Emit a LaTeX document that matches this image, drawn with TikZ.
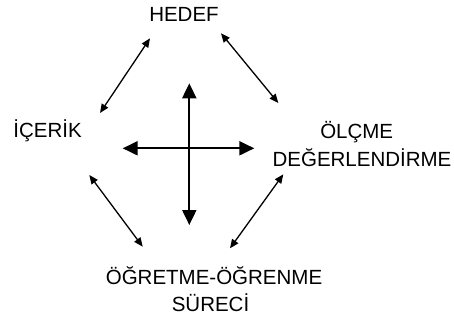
\documentclass[tikz,border=0pt]{standalone}
\usepackage{fontspec}
\setmainfont{Liberation Sans}
\usetikzlibrary{arrows.meta}
\tikzset{
  lbl/.style={anchor=base, inner sep=0pt, font=\fontsize{20.5}{28}\selectfont},
  thinarrow/.style={line width=1.3pt, {Triangle[length=9pt,width=7.5pt]}-{Triangle[length=9pt,width=7.5pt]}},
  bigarrow/.style={line width=2pt, {Triangle[length=15pt,width=14pt]}-{Triangle[length=15pt,width=14pt]}}
}
\begin{document}
\begin{tikzpicture}[x=1pt,y=-1pt]
\useasboundingbox (0,0) rectangle (454,322);
% labels
\node[lbl] (hedef) at (184,21.5) {HEDEF};
\node[lbl] (icerik) at (47.5,137) {İÇERİK};
\node[lbl] (olcme) at (356.7,138) {ÖLÇME};
\node[lbl] (degerl) at (362,166) {DEĞERLENDİRME};
\node[lbl] (ogretme) at (214,284) {ÖĞRETME-ÖĞRENME};
\node[lbl] (sureci) at (210.5,311) {SÜRECİ};
% connector end points
\coordinate (a1s) at (150,38.3);
\coordinate (a1e) at (100,113);
\coordinate (a2s) at (221,33.3);
\coordinate (a2e) at (278.3,103);
\coordinate (a3s) at (89.3,175);
\coordinate (a3e) at (142.7,246.7);
\coordinate (a4s) at (283.3,174.3);
\coordinate (a4e) at (230,248.3);
\coordinate (vtop) at (189.3,83.3);
\coordinate (vbot) at (189.3,225);
\coordinate (hl) at (122.7,148.3);
\coordinate (hr) at (254.3,148.3);
% connectors
\draw[thinarrow] (a1s) -- (a1e);
\draw[thinarrow] (a2s) -- (a2e);
\draw[thinarrow] (a3s) -- (a3e);
\draw[thinarrow] (a4s) -- (a4e);
\draw[bigarrow] (vtop) -- (vbot);
\draw[bigarrow] (hl) -- (hr);
\end{tikzpicture}
\end{document}
